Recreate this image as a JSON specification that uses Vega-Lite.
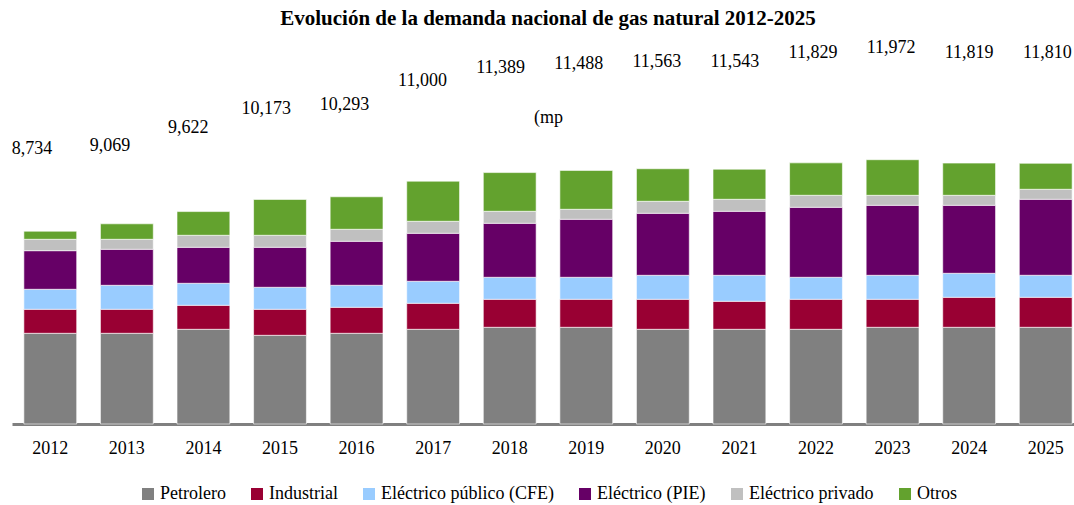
{
  "$schema": "https://vega.github.io/schema/vega-lite/v6.json",
  "width": 1072,
  "height": 384,
  "autosize": {"type": "none"},
  "padding": {"left": 12, "top": 40, "right": 0, "bottom": 81},
  "config": {
    "font": "Liberation Serif",
    "view": {"stroke": null},
    "legend": {
      "orient": "bottom",
      "direction": "horizontal",
      "symbolType": "square",
      "symbolSize": 144,
      "symbolStrokeWidth": 0,
      "labelFont": "Liberation Serif",
      "labelFontSize": 18,
      "labelColor": "#000000",
      "labelOffset": 3,
      "columnPadding": 22,
      "offset": 28,
      "labelLimit": 400,
      "layout": {"bottom": {"anchor": "middle"}}
    }
  },
  "title": {
    "text": "Evolución de la demanda nacional de gas natural 2012-2025",
    "font": "Liberation Serif",
    "fontSize": 21,
    "fontWeight": "bold",
    "color": "#000000",
    "anchor": "middle",
    "frame": "group",
    "offset": 10
  },
  "datasets": {
    "seg": [
      {"year": "2012", "cat": "Petrolero", "k": 1, "v": 4109},
      {"year": "2012", "cat": "Industrial", "k": 2, "v": 1087},
      {"year": "2012", "cat": "Eléctrico público (CFE)", "k": 3, "v": 906},
      {"year": "2012", "cat": "Eléctrico (PIE)", "k": 4, "v": 1749},
      {"year": "2012", "cat": "Eléctrico privado", "k": 5, "v": 516},
      {"year": "2012", "cat": "Otros", "k": 6, "v": 367},
      {"year": "2013", "cat": "Petrolero", "k": 1, "v": 4109},
      {"year": "2013", "cat": "Industrial", "k": 2, "v": 1087},
      {"year": "2013", "cat": "Eléctrico público (CFE)", "k": 3, "v": 1087},
      {"year": "2013", "cat": "Eléctrico (PIE)", "k": 4, "v": 1631},
      {"year": "2013", "cat": "Eléctrico privado", "k": 5, "v": 453},
      {"year": "2013", "cat": "Otros", "k": 6, "v": 702},
      {"year": "2014", "cat": "Petrolero", "k": 1, "v": 4290},
      {"year": "2014", "cat": "Industrial", "k": 2, "v": 1087},
      {"year": "2014", "cat": "Eléctrico público (CFE)", "k": 3, "v": 997},
      {"year": "2014", "cat": "Eléctrico (PIE)", "k": 4, "v": 1631},
      {"year": "2014", "cat": "Eléctrico privado", "k": 5, "v": 544},
      {"year": "2014", "cat": "Otros", "k": 6, "v": 1073},
      {"year": "2015", "cat": "Petrolero", "k": 1, "v": 4018},
      {"year": "2015", "cat": "Industrial", "k": 2, "v": 1178},
      {"year": "2015", "cat": "Eléctrico público (CFE)", "k": 3, "v": 997},
      {"year": "2015", "cat": "Eléctrico (PIE)", "k": 4, "v": 1812},
      {"year": "2015", "cat": "Eléctrico privado", "k": 5, "v": 544},
      {"year": "2015", "cat": "Otros", "k": 6, "v": 1624},
      {"year": "2016", "cat": "Petrolero", "k": 1, "v": 4109},
      {"year": "2016", "cat": "Industrial", "k": 2, "v": 1178},
      {"year": "2016", "cat": "Eléctrico público (CFE)", "k": 3, "v": 997},
      {"year": "2016", "cat": "Eléctrico (PIE)", "k": 4, "v": 1993},
      {"year": "2016", "cat": "Eléctrico privado", "k": 5, "v": 544},
      {"year": "2016", "cat": "Otros", "k": 6, "v": 1472},
      {"year": "2017", "cat": "Petrolero", "k": 1, "v": 4290},
      {"year": "2017", "cat": "Industrial", "k": 2, "v": 1178},
      {"year": "2017", "cat": "Eléctrico público (CFE)", "k": 3, "v": 997},
      {"year": "2017", "cat": "Eléctrico (PIE)", "k": 4, "v": 2174},
      {"year": "2017", "cat": "Eléctrico privado", "k": 5, "v": 544},
      {"year": "2017", "cat": "Otros", "k": 6, "v": 1817},
      {"year": "2018", "cat": "Petrolero", "k": 1, "v": 4381},
      {"year": "2018", "cat": "Industrial", "k": 2, "v": 1268},
      {"year": "2018", "cat": "Eléctrico público (CFE)", "k": 3, "v": 997},
      {"year": "2018", "cat": "Eléctrico (PIE)", "k": 4, "v": 2446},
      {"year": "2018", "cat": "Eléctrico privado", "k": 5, "v": 544},
      {"year": "2018", "cat": "Otros", "k": 6, "v": 1753},
      {"year": "2019", "cat": "Petrolero", "k": 1, "v": 4381},
      {"year": "2019", "cat": "Industrial", "k": 2, "v": 1268},
      {"year": "2019", "cat": "Eléctrico público (CFE)", "k": 3, "v": 997},
      {"year": "2019", "cat": "Eléctrico (PIE)", "k": 4, "v": 2627},
      {"year": "2019", "cat": "Eléctrico privado", "k": 5, "v": 453},
      {"year": "2019", "cat": "Otros", "k": 6, "v": 1762},
      {"year": "2020", "cat": "Petrolero", "k": 1, "v": 4290},
      {"year": "2020", "cat": "Industrial", "k": 2, "v": 1359},
      {"year": "2020", "cat": "Eléctrico público (CFE)", "k": 3, "v": 1087},
      {"year": "2020", "cat": "Eléctrico (PIE)", "k": 4, "v": 2809},
      {"year": "2020", "cat": "Eléctrico privado", "k": 5, "v": 544},
      {"year": "2020", "cat": "Otros", "k": 6, "v": 1474},
      {"year": "2021", "cat": "Petrolero", "k": 1, "v": 4290},
      {"year": "2021", "cat": "Industrial", "k": 2, "v": 1268},
      {"year": "2021", "cat": "Eléctrico público (CFE)", "k": 3, "v": 1178},
      {"year": "2021", "cat": "Eléctrico (PIE)", "k": 4, "v": 2899},
      {"year": "2021", "cat": "Eléctrico privado", "k": 5, "v": 544},
      {"year": "2021", "cat": "Otros", "k": 6, "v": 1364},
      {"year": "2022", "cat": "Petrolero", "k": 1, "v": 4290},
      {"year": "2022", "cat": "Industrial", "k": 2, "v": 1359},
      {"year": "2022", "cat": "Eléctrico público (CFE)", "k": 3, "v": 997},
      {"year": "2022", "cat": "Eléctrico (PIE)", "k": 4, "v": 3171},
      {"year": "2022", "cat": "Eléctrico privado", "k": 5, "v": 544},
      {"year": "2022", "cat": "Otros", "k": 6, "v": 1468},
      {"year": "2023", "cat": "Petrolero", "k": 1, "v": 4381},
      {"year": "2023", "cat": "Industrial", "k": 2, "v": 1268},
      {"year": "2023", "cat": "Eléctrico público (CFE)", "k": 3, "v": 1087},
      {"year": "2023", "cat": "Eléctrico (PIE)", "k": 4, "v": 3171},
      {"year": "2023", "cat": "Eléctrico privado", "k": 5, "v": 453},
      {"year": "2023", "cat": "Otros", "k": 6, "v": 1612},
      {"year": "2024", "cat": "Petrolero", "k": 1, "v": 4381},
      {"year": "2024", "cat": "Industrial", "k": 2, "v": 1359},
      {"year": "2024", "cat": "Eléctrico público (CFE)", "k": 3, "v": 1087},
      {"year": "2024", "cat": "Eléctrico (PIE)", "k": 4, "v": 3080},
      {"year": "2024", "cat": "Eléctrico privado", "k": 5, "v": 453},
      {"year": "2024", "cat": "Otros", "k": 6, "v": 1459},
      {"year": "2025", "cat": "Petrolero", "k": 1, "v": 4381},
      {"year": "2025", "cat": "Industrial", "k": 2, "v": 1359},
      {"year": "2025", "cat": "Eléctrico público (CFE)", "k": 3, "v": 997},
      {"year": "2025", "cat": "Eléctrico (PIE)", "k": 4, "v": 3443},
      {"year": "2025", "cat": "Eléctrico privado", "k": 5, "v": 453},
      {"year": "2025", "cat": "Otros", "k": 6, "v": 1177}
    ],
    "tot": [
      {"year": "2012", "total": 8734},
      {"year": "2013", "total": 9069},
      {"year": "2014", "total": 9622},
      {"year": "2015", "total": 10173},
      {"year": "2016", "total": 10293},
      {"year": "2017", "total": 11000},
      {"year": "2018", "total": 11389},
      {"year": "2019", "total": 11488},
      {"year": "2020", "total": 11563},
      {"year": "2021", "total": 11543},
      {"year": "2022", "total": 11829},
      {"year": "2023", "total": 11972},
      {"year": "2024", "total": 11819},
      {"year": "2025", "total": 11810}
    ],
    "note": [{"t": "(mp"}]
  },
  "layer": [
    {
      "data": {"name": "seg"},
      "mark": {"type": "bar", "stroke": "#ffffff", "strokeWidth": 1, "strokeOpacity": 0.6},
      "encoding": {
        "x": {
          "field": "year", "type": "nominal",
          "scale": {"paddingInner": 0.31, "paddingOuter": 0.155},
          "axis": {
            "title": null, "labelAngle": 0, "ticks": false, "grid": false,
            "domainColor": "#808080", "domainWidth": 3,
            "labelFont": "Liberation Serif", "labelFontSize": 18, "labelColor": "#000000",
            "labelPadding": 15
          }
        },
        "y": {
          "field": "v", "type": "quantitative", "stack": "zero",
          "scale": {"domain": [0, 17395], "nice": false},
          "axis": null
        },
        "order": {"field": "k", "type": "quantitative", "sort": "ascending"},
        "color": {
          "field": "cat", "type": "nominal",
          "sort": ["Petrolero", "Industrial", "Eléctrico público (CFE)", "Eléctrico (PIE)", "Eléctrico privado", "Otros"],
          "scale": {
            "domain": ["Petrolero", "Industrial", "Eléctrico público (CFE)", "Eléctrico (PIE)", "Eléctrico privado", "Otros"],
            "range": ["#808080", "#990033", "#99CCFF", "#660066", "#C0C0C0", "#63A22E"]
          },
          "legend": {"title": null}
        }
      }
    },
    {
      "layer": [
        {
          "data": {"name": "tot"},
          "mark": {"type": "text", "font": "Liberation Serif", "fontSize": 18, "color": "#000000", "baseline": "middle", "align": "center"},
          "encoding": {
            "x": {"field": "year", "type": "nominal", "scale": {"type": "point", "padding": 0.363, "align": 0.353}, "axis": null},
            "y": {"field": "total", "type": "quantitative", "scale": {"domain": [9060, 12000], "range": [108.7, 7], "clamp": true}, "axis": null},
            "text": {"field": "total", "type": "quantitative", "format": ",.0f"}
          }
        },
        {
          "data": {"name": "note"},
          "mark": {"type": "text", "font": "Liberation Serif", "fontSize": 18, "color": "#000000", "baseline": "middle", "align": "center", "dx": 48},
          "encoding": {
            "x": {"datum": "2018", "type": "nominal"},
            "y": {"datum": 9920, "type": "quantitative"},
            "text": {"field": "t", "type": "nominal"}
          }
        }
      ]
    }
  ],
  "resolve": {"scale": {"x": "independent", "y": "independent"}}
}
